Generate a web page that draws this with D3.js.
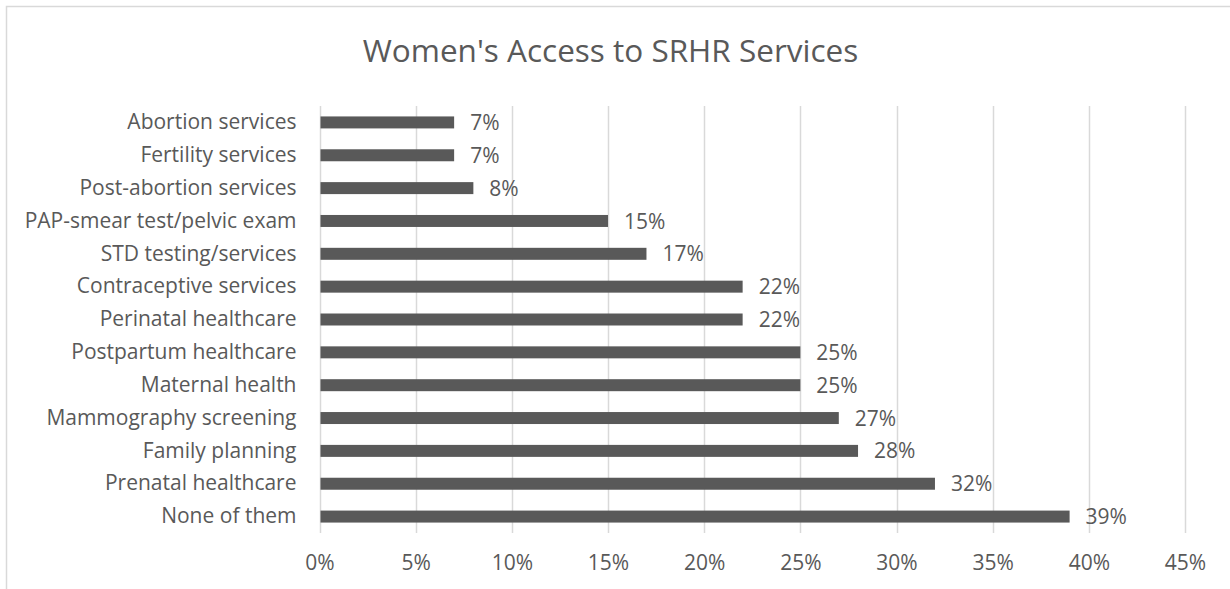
<!DOCTYPE html>
<html>
<head>
<meta charset="utf-8">
<script src="https://cdn.jsdelivr.net/npm/d3@7"></script>
<style>
  body { margin: 0; background: #fff; }
  svg { display: block; font-family: "Open Sans", Lato, sans-serif; }
</style>
</head>
<body>
<div id="chart"></div>
<script>
// du lieu doc tu hinh (tu tren xuong duoi)
var categories = [
  "Abortion services",
  "Fertility services",
  "Post-abortion services",
  "PAP-smear test/pelvic exam",
  "STD testing/services",
  "Contraceptive services",
  "Perinatal healthcare",
  "Postpartum healthcare",
  "Maternal health",
  "Mammography screening",
  "Family planning",
  "Prenatal healthcare",
  "None of them"
];
var values = [7, 7, 8, 15, 17, 22, 22, 25, 25, 27, 28, 32, 39];
var tickValues = [0, 5, 10, 15, 20, 25, 30, 35, 40, 45];
var title = "Women's Access to SRHR Services";

var width = 1230, height = 589;
var textColor = "#595959", barColor = "#595959", gridColor = "#d9d9d9";
var fontFam = "'Open Sans', Lato, sans-serif";

var margin = { top: 106, right: 45, bottom: 56, left: 319.5 };

var svg = d3.select("#chart").append("svg")
    .attr("width", width)
    .attr("height", height);

// khung ngoai
svg.append("rect")
    .attr("x", 6.5).attr("y", 6.5)
    .attr("width", width + 20).attr("height", height + 20)
    .attr("fill", "#fff")
    .attr("stroke", gridColor)
    .attr("stroke-width", 1.5);

var x = d3.scaleLinear()
    .domain([0, 45])
    .range([margin.left, width - margin.right]);

var y = d3.scaleBand()
    .domain(categories)
    .range([margin.top, height - margin.bottom])
    .paddingInner(0.635)
    .paddingOuter(0.3175);

// tieu de
svg.append("text")
    .attr("x", 610.5)
    .attr("y", 62)
    .attr("text-anchor", "middle")
    .attr("fill", textColor)
    .style("font-size", "31.5px")
    .text(title);

// luoi doc
svg.append("g")
    .selectAll("line")
    .data(tickValues)
    .enter().append("line")
    .attr("x1", function(d) { return Math.round(x(d)) + 0.5; })
    .attr("x2", function(d) { return Math.round(x(d)) + 0.5; })
    .attr("y1", margin.top)
    .attr("y2", height - margin.bottom)
    .attr("stroke", gridColor)
    .attr("stroke-width", 1.5);

// truc x
var xAxis = svg.append("g")
    .attr("transform", "translate(0," + (height - margin.bottom) + ")")
    .call(d3.axisBottom(x).tickValues(tickValues).tickSize(0).tickPadding(22)
        .tickFormat(function(d) { return d + "%"; }));
xAxis.select(".domain").remove();
xAxis.selectAll("text")
    .attr("fill", textColor)
    .style("font-size", "21px")
    .style("font-family", fontFam);

// truc y
var yAxis = svg.append("g")
    .attr("transform", "translate(" + margin.left + ",0)")
    .call(d3.axisLeft(y).tickSize(0).tickPadding(23));
yAxis.select(".domain").remove();
yAxis.selectAll("text")
    .attr("fill", textColor)
    .style("font-size", "21px")
    .style("font-family", fontFam);

// thanh
svg.append("g")
    .selectAll("rect")
    .data(values)
    .enter().append("rect")
    .attr("x", x(0) + 1)
    .attr("y", function(d, i) { return y(categories[i]); })
    .attr("width", function(d) { return x(d) - x(0) - 1; })
    .attr("height", y.bandwidth())
    .attr("fill", barColor);

// nhan gia tri
svg.append("g")
    .selectAll("text")
    .data(values)
    .enter().append("text")
    .attr("x", function(d) { return x(d) + 16; })
    .attr("y", function(d, i) { return y(categories[i]) + y.bandwidth() / 2; })
    .attr("dy", "0.36em")
    .attr("fill", textColor)
    .style("font-size", "21px")
    .text(function(d) { return d + "%"; });
</script>
</body>
</html>
